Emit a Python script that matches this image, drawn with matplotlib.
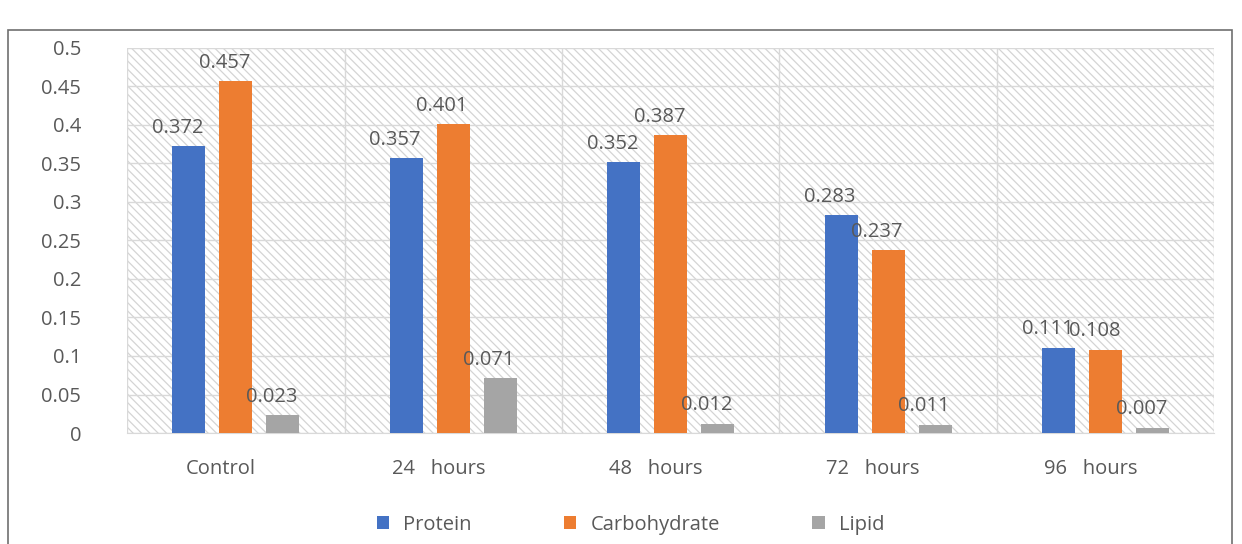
import matplotlib.pyplot as plt
import numpy as np
from matplotlib.patches import Rectangle
from matplotlib.transforms import ScaledTranslation

plt.rcParams['font.family'] = ['Open Sans', 'DejaVu Sans']
plt.rcParams['hatch.linewidth'] = 0.9

categories = ['Control', '24   hours', '48   hours', '72   hours', '96   hours']
protein = [0.372, 0.357, 0.352, 0.283, 0.111]
carbohydrate = [0.457, 0.401, 0.387, 0.237, 0.108]
lipid = [0.023, 0.071, 0.012, 0.011, 0.007]

series = [('Protein', protein, '#4472C4'),
          ('Carbohydrate', carbohydrate, '#ED7D31'),
          ('Lipid', lipid, '#A5A5A5')]

txt = '#595959'
fs = 14.5
fig = plt.figure(figsize=(12.42, 5.44), dpi=100)
ax = fig.add_axes([0.1023, 0.204, 0.8755, 0.708])

# chart border
fig.add_artist(Rectangle((8 / 1242, -0.1), 1224 / 1242, 1.072 - 15 / 544,
                         transform=fig.transFigure, fill=False,
                         edgecolor='#6f6f6f', lw=1.2))

# hatched plot area
ax.add_patch(Rectangle((0, 0), 1, 1, transform=ax.transAxes, fill=False,
                       hatch='\\\\\\\\', edgecolor='#d4d4d4', lw=0, zorder=0))

x = np.arange(len(categories))
w = 0.152
offs = [-0.216, 0, 0.216]
for (name, vals, col), o in zip(series, offs):
    bars = ax.bar(x + o, vals, w, color=col, label=name, zorder=3)
    for b, v in zip(bars, vals):
        ax.annotate(f'{v:g}', (b.get_x() + b.get_width() / 2, v),
                    xytext=(-8, 6), textcoords='offset points',
                    ha='center', va='bottom', fontsize=fs, color=txt, zorder=4)

ax.set_xlim(-0.5, len(categories) - 0.5)
ax.set_ylim(0, 0.5)
yt = np.arange(0, 0.501, 0.05)
ax.set_yticks(yt)
ax.set_yticklabels([f'{v:g}' for v in np.round(yt, 2)])
ax.set_xticks(x)
ax.set_xticklabels(categories)
ax.tick_params(axis='y', length=0, pad=33, labelsize=fs, labelcolor=txt)
ax.tick_params(axis='x', length=0, pad=19, labelsize=fs, labelcolor=txt)
shift = ScaledTranslation(-15 / 100, 0, fig.dpi_scale_trans)
for lab in ax.get_xticklabels():
    lab.set_transform(lab.get_transform() + shift)
ax.grid(axis='y', color='#d9d9d9', lw=1, zorder=1)
for b in np.arange(-0.5, len(categories), 1):
    ax.axvline(b, color='#d9d9d9', lw=1, zorder=1)
for s in ['top', 'right', 'left']:
    ax.spines[s].set_visible(False)
ax.spines['bottom'].set_color('#d9d9d9')

ax.legend(loc='upper center', bbox_to_anchor=(0.463, -0.165), ncol=3, frameon=False,
          fontsize=fs, labelcolor=txt, handlelength=0.6, handleheight=0.6,
          columnspacing=4.6, handletextpad=0.7)

fig.savefig('out.png', dpi=100)
